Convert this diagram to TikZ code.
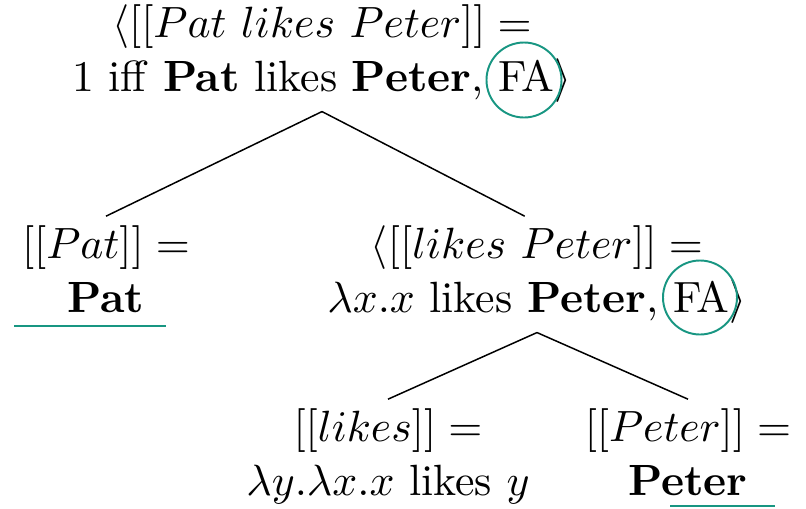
\documentclass[tikz,border=0pt]{standalone}
\definecolor{fateal}{RGB}{24,150,130}
\tikzset{
	sem/.style= {align= center, inner sep= 2pt, font= \fontsize{10}{12.2}\selectfont, scale= 2.49, transform shape, anchor= base},
	branch/.style= {line width= 0.85pt},
	hilite/.style= {fateal, line width= 1.1pt}
}
\begin{document}
\begin{tikzpicture}[x= 0.02cm, y= -0.02cm]
	\useasboundingbox (0, 0) rectangle (806, 508);

	\node[sem](root) at (322, 91){$\langle[[Pat\ likes\ Peter]] =$\\1 iff \textbf{Pat} likes \textbf{Peter}, FA$\rangle$}; %根
	\node[sem](pat) at (106, 312){$[[Pat]] =$\\\textbf{Pat}}; %主語
	\node[sem](lp) at (537, 312){$\langle[[likes\ Peter]] =$\\$\lambda x.x$ likes \textbf{Peter}, FA$\rangle$}; %動詞句
	\node[sem](likes) at (388, 495){$[[likes]] =$\\$\lambda y.\lambda x.x$ likes $y$}; %動詞
	\node[sem](peter) at (688, 495){$[[Peter]] =$\\\textbf{Peter}}; %目的語

	\draw[branch](root.south)-- (pat.north); %根- 主語
	\draw[branch](root.south)-- ([xshift= -7pt]lp.north); %根- 動詞句
	\draw[branch](lp.south)-- (likes.north); %動詞句- 動詞
	\draw[branch](lp.south)-- (peter.north); %動詞句- 目的語

	\draw[hilite](524, 80) circle [radius= 37.5]; %FA 上
	\draw[hilite](700, 297.5) circle [radius= 37]; %FA 下
	\draw[hilite](14, 326)-- (166, 326); %Pat 下線
	\draw[hilite](670, 506)-- (775, 506); %Peter 下線
\end{tikzpicture}
\end{document}
